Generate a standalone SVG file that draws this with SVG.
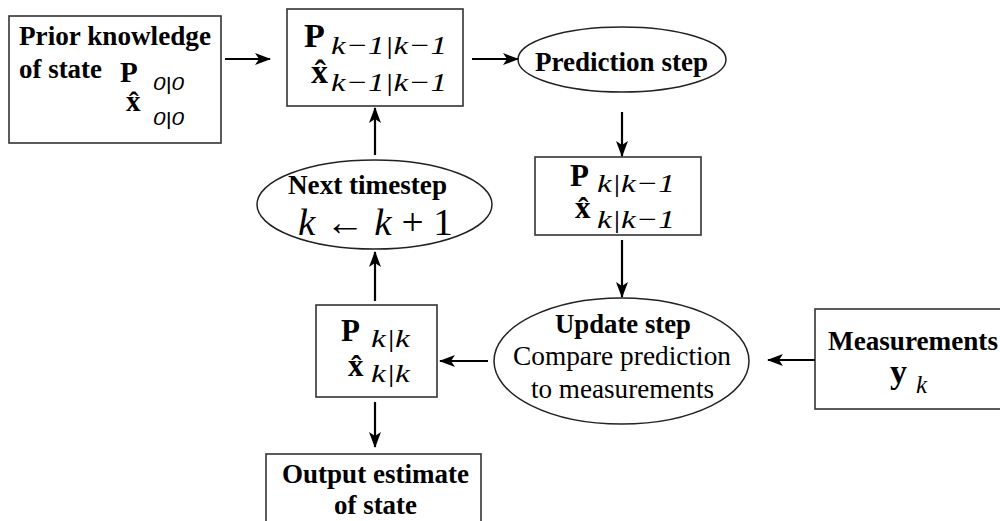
<svg xmlns="http://www.w3.org/2000/svg" width="1000" height="521" viewBox="0 0 1000 521">
<defs>
<marker id="ah" markerUnits="userSpaceOnUse" markerWidth="18" markerHeight="14" refX="15" refY="6" orient="auto">
<path d="M0,0 L16,6 L0,12 L4,6 Z" fill="#000"/>
</marker>
</defs>
<style>
.box{fill:#fff;stroke:#333;stroke-width:1.6}
.ell{fill:#fff;stroke:#222;stroke-width:1.5}
.c line{stroke:#000;stroke-width:2.2;marker-end:url(#ah)}
</style>
<rect width="1000" height="521" fill="#fff"/>

<g id="prior">
<rect class="box" x="9" y="16" width="212" height="127"/>
<text font-family="Liberation Serif, Tinos, serif" font-weight="bold" font-size="27" x="19" y="45" textLength="192" lengthAdjust="spacingAndGlyphs">Prior knowledge</text>
<text font-family="Liberation Serif, Tinos, serif" font-weight="bold" font-size="27" x="19" y="78" textLength="83" lengthAdjust="spacingAndGlyphs">of state</text>
<text font-family="Liberation Serif, Tinos, serif" font-weight="bold" font-size="29" x="120" y="82">P</text>
<text font-family="Liberation Sans, Arimo, sans-serif" font-style="italic" font-size="19" x="153" y="90" textLength="31" lengthAdjust="spacingAndGlyphs">0|0</text>
<text font-family="Liberation Serif, Tinos, serif" font-weight="bold" font-size="29" x="126" y="111">x̂</text>
<text font-family="Liberation Sans, Arimo, sans-serif" font-style="italic" font-size="19" x="153" y="125" textLength="31" lengthAdjust="spacingAndGlyphs">0|0</text>
</g>

<g id="prev">
<rect class="box" x="287" y="9" width="176" height="97"/>
<text font-family="Liberation Serif, Tinos, serif" font-weight="bold" font-size="34" x="304" y="47">P</text>
<text font-family="Liberation Serif, Tinos, serif" font-style="italic" font-size="26" x="331" y="54" textLength="116" lengthAdjust="spacingAndGlyphs">k−1|k−1</text>
<text font-family="Liberation Serif, Tinos, serif" font-weight="bold" font-size="34" x="311" y="83">x̂</text>
<text font-family="Liberation Serif, Tinos, serif" font-style="italic" font-size="26" x="331" y="91" textLength="116" lengthAdjust="spacingAndGlyphs">k−1|k−1</text>
</g>

<g id="predict">
<ellipse class="ell" cx="622" cy="59.5" rx="104" ry="32.5"/>
<text font-family="Liberation Serif, Tinos, serif" font-weight="bold" font-size="28" x="621.5" y="71" text-anchor="middle" textLength="173" lengthAdjust="spacingAndGlyphs">Prediction step</text>
</g>

<g id="next">
<ellipse class="ell" cx="374.5" cy="204.5" rx="117.5" ry="44.5"/>
<text font-family="Liberation Serif, Tinos, serif" font-weight="bold" font-size="27" x="367.5" y="194" text-anchor="middle" textLength="159" lengthAdjust="spacingAndGlyphs">Next timestep</text>
<text font-family="Liberation Serif, Tinos, serif" font-style="italic" font-size="38" x="298" y="235" textLength="155" lengthAdjust="spacingAndGlyphs">k <tspan font-style="normal">←</tspan> k <tspan font-style="normal">+ 1</tspan></text>
</g>

<g id="predicted">
<rect class="box" x="535" y="157" width="166" height="78"/>
<text font-family="Liberation Serif, Tinos, serif" font-weight="bold" font-size="31" x="570" y="186">P</text>
<text font-family="Liberation Serif, Tinos, serif" font-style="italic" font-size="26" x="597" y="192" textLength="78" lengthAdjust="spacingAndGlyphs">k|k−1</text>
<text font-family="Liberation Serif, Tinos, serif" font-weight="bold" font-size="31" x="575" y="218">x̂</text>
<text font-family="Liberation Serif, Tinos, serif" font-style="italic" font-size="26" x="597" y="228" textLength="78" lengthAdjust="spacingAndGlyphs">k|k−1</text>
</g>

<g id="update">
<ellipse class="ell" cx="621.5" cy="361" rx="127.5" ry="63"/>
<text font-family="Liberation Serif, Tinos, serif" font-weight="bold" font-size="28" x="623" y="333" text-anchor="middle" textLength="136" lengthAdjust="spacingAndGlyphs">Update step</text>
<text font-family="Liberation Serif, Tinos, serif" font-size="28" x="622" y="365" text-anchor="middle" textLength="218" lengthAdjust="spacingAndGlyphs">Compare prediction</text>
<text font-family="Liberation Serif, Tinos, serif" font-size="28" x="622.5" y="398" text-anchor="middle" textLength="183" lengthAdjust="spacingAndGlyphs">to measurements</text>
</g>

<g id="measurements">
<rect class="box" x="815" y="309" width="200" height="100"/>
<text font-family="Liberation Serif, Tinos, serif" font-weight="bold" font-size="27" x="828" y="350" textLength="170" lengthAdjust="spacingAndGlyphs">Measurements</text>
<text font-family="Liberation Serif, Tinos, serif" font-weight="bold" font-size="34" x="890" y="383">y</text>
<text font-family="Liberation Serif, Tinos, serif" font-style="italic" font-size="25" x="916" y="393">k</text>
</g>

<g id="posterior">
<rect class="box" x="316" y="305" width="121" height="92"/>
<text font-family="Liberation Serif, Tinos, serif" font-weight="bold" font-size="31" x="341" y="341">P</text>
<text font-family="Liberation Serif, Tinos, serif" font-style="italic" font-size="26" x="371" y="347" textLength="39" lengthAdjust="spacingAndGlyphs">k|k</text>
<text font-family="Liberation Serif, Tinos, serif" font-weight="bold" font-size="31" x="348" y="376">x̂</text>
<text font-family="Liberation Serif, Tinos, serif" font-style="italic" font-size="26" x="371" y="382" textLength="39" lengthAdjust="spacingAndGlyphs">k|k</text>
</g>

<g id="output">
<rect class="box" x="266" y="454" width="215" height="90"/>
<text font-family="Liberation Serif, Tinos, serif" font-weight="bold" font-size="27" x="375.5" y="483" text-anchor="middle" textLength="187" lengthAdjust="spacingAndGlyphs">Output estimate</text>
<text font-family="Liberation Serif, Tinos, serif" font-weight="bold" font-size="27" x="375.5" y="514" text-anchor="middle" textLength="83" lengthAdjust="spacingAndGlyphs">of state</text>
</g>

<g id="connectors" class="c">
<line x1="225" y1="59" x2="270" y2="59"/>
<line x1="472" y1="59" x2="518" y2="59"/>
<line x1="622" y1="112" x2="622" y2="156"/>
<line x1="622" y1="240" x2="622" y2="297"/>
<line x1="815" y1="360" x2="768" y2="360"/>
<line x1="488" y1="361" x2="440" y2="361"/>
<line x1="375" y1="301" x2="375" y2="252"/>
<line x1="375" y1="155" x2="375" y2="108"/>
<line x1="375" y1="402" x2="375" y2="447"/>
</g>
</svg>
